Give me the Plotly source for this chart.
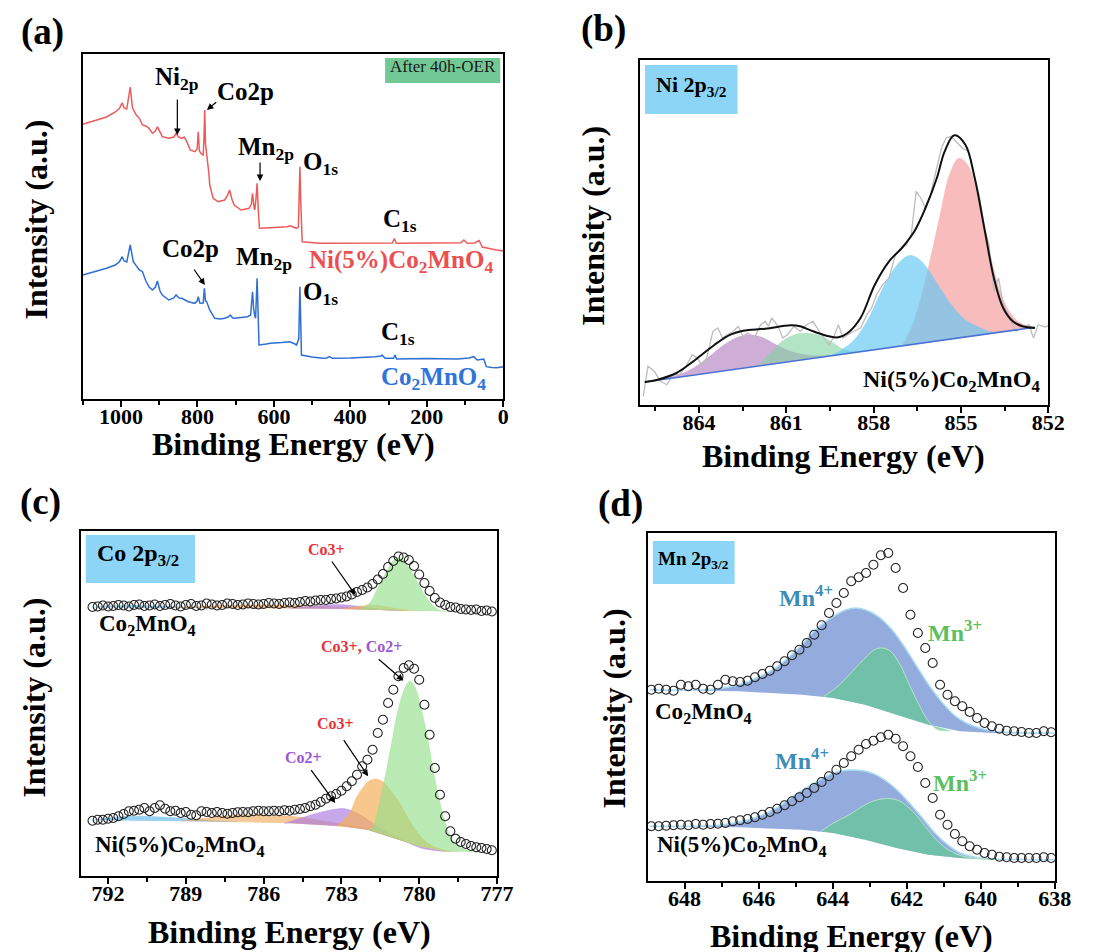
import plotly.graph_objects as go

W, H = 1100, 952
FONT = "Times New Roman, Liberation Serif, Tinos, serif"

# ---------------- Panel (a) survey spectra ----------------
a_red_x = [1100, 1070, 1038, 1015, 1004, 997, 992, 985, 976, 970, 960, 952, 944, 935, 927, 918, 910, 905, 898, 892,
           875, 862, 856, 850, 841, 835, 828, 819, 807, 801, 798, 795, 790, 785, 783, 781, 779, 775, 770, 768,
           759, 746, 729, 722, 716, 710, 704, 686, 665, 659, 656, 652, 650, 647, 644, 641, 638, 609, 566, 558,
           541, 536, 533, 532, 530, 528, 526, 480, 400, 352, 290, 285, 280, 275, 200, 111, 103, 94, 75, 63,
           55, 43, 30, 17, 0]
a_red_y = [274.7, 278, 282, 287, 290.7, 296.3, 291, 290, 312, 291, 284, 280.7, 274, 273, 270.7, 265.7, 268, 272.3, 266, 262.3,
           260.7, 262, 265.7, 262, 260.7, 262, 257.3, 249, 247.3, 250, 267.3, 248, 245, 244, 260, 289, 255, 244, 225, 214,
           200.7, 197.3, 199, 203, 209, 200, 194, 189, 190.7, 195, 205.7, 192, 189, 200, 215.7, 190, 170.7, 171.3, 172.3, 173.3,
           170.7, 172, 215, 232.3, 200, 165, 157.3, 155.7, 156, 155.7, 156, 160.5, 156, 155.7, 156, 156.3, 159, 155.7, 156, 158.5,
           152, 150.7, 150, 149, 148]
a_blue_x = [1100, 1070, 1038, 1015, 1004, 997, 992, 985, 976, 968, 960, 952, 944, 935, 927, 918, 910, 905, 898, 892,
            875, 862, 856, 848, 841, 824, 807, 801, 798, 794, 791, 785, 782, 779, 776, 768, 755, 740, 729, 720,
            714, 708, 704, 680, 669, 661, 658, 656, 653, 652, 650, 648, 646, 644, 642, 639, 620, 609, 580, 558,
            545, 541, 535, 533, 532, 530, 528, 500, 472, 462, 455, 447, 400, 335, 320, 317, 309, 287, 283, 279,
            200, 120, 90, 77, 68, 51, 44, 30, 17, 0]
a_blue_y = [124, 127, 130.7, 134, 137.3, 142.3, 138, 137, 154, 137.3, 133, 129, 127.3, 118, 112.3, 109, 112, 118, 108, 104,
            99, 101, 104, 101, 100.7, 97.3, 95.7, 98, 102.3, 96, 95.7, 96, 110.7, 98, 97.3, 89, 80.7, 80, 80.7, 82,
            84, 81, 80.7, 81.5, 82.3, 84, 95, 107.3, 90, 85.7, 83, 80.7, 100, 120.7, 95, 54, 55, 55.7, 56.5, 57.3,
            55, 54, 60, 95, 112.3, 80, 44, 42, 40.7, 41, 42.3, 40.7, 41, 42.3, 43, 44, 40.7, 40.7, 44, 40,
            40.5, 40, 41, 42.3, 39, 40, 32.3, 31.5, 31.3, 32.3]

# ---------------- Panel (b) Ni 2p3/2 ----------------
b_raw_x = [865.91, 865.75, 865.53, 865.32, 865.10, 864.88, 864.66, 864.44, 864.23, 864.06, 863.90, 863.73, 863.52, 863.35,
           863.19, 863.03, 862.81, 862.65, 862.48, 862.32, 862.10, 861.88, 861.72, 861.61, 861.50, 861.28, 861.12, 860.96,
           860.74, 860.52, 860.30, 860.08, 859.87, 859.70, 859.54, 859.38, 859.21, 859.05, 858.89, 858.67, 858.45, 858.23,
           858.07, 857.90, 857.69, 857.47, 857.25, 857.03, 856.87, 856.71, 856.54, 856.38, 856.22, 856.05, 855.89, 855.67,
           855.51, 855.34, 855.18, 854.96, 854.74, 854.53, 854.36, 854.20, 854.04, 853.87, 853.71, 853.55, 853.33, 853.11,
           852.89, 852.67, 852.51, 852.35, 852.10, 851.90]
b_raw_y = [8.7, 38.7, 33.7, 23.7, 20.3, 30.3, 30.3, 38.7, 50.3, 47, 40.3, 47, 73.7, 77,
           67, 70.3, 73.7, 78.7, 68.7, 72, 67, 80.3, 83.7, 78.7, 87, 78.7, 67, 70.3,
           78.7, 73.7, 80.3, 83.7, 73.7, 67, 60.3, 67, 80.3, 67, 70.3, 73.7, 77, 90.3,
           97, 110.3, 120.3, 127, 150.3, 157, 160.3, 170.3, 213.7, 207, 197, 210.3, 230.3, 257,
           267, 268.7, 263.7, 257, 253.7, 227, 207, 177, 160.3, 113.7, 127, 100.3, 87, 73.7,
           77, 80.3, 67, 80.3, 78, 81]
b_env_x = [865.86, 865.42, 864.77, 864.12, 863.46, 862.92, 862.48, 861.72, 860.85, 860.52, 860.08, 859.54, 859.21, 858.89,
           858.45, 857.96, 857.47, 857.03, 856.60, 856.22, 855.83, 855.56, 855.23, 854.85, 854.53, 854.20, 853.87, 853.55,
           853.22, 852.89, 852.46]
b_env_y = [23, 25.3, 32, 45.3, 60.3, 70.3, 74.3, 76.3, 79.7, 78.7, 73.7, 68.7, 67.7, 72,
           87, 120.3, 143.7, 157, 173.7, 197, 227, 253.7, 269.7, 260.3, 227, 177, 127, 97,
           83.7, 78.7, 77]
b_base_x = [865.86, 852.46]
b_base_y = [23, 77.7]
b_purple_x = [865.86, 864.99, 864.33, 863.68, 863.14, 862.59, 862.26, 861.83, 861.39, 860.85, 860.19, 859.32]
b_purple_y = [23, 27.7, 34.7, 47.7, 60.3, 68.7, 70.3, 67.7, 61, 53.7, 49.7, 49.7]
b_green_x = [861.94, 861.50, 861.07, 860.63, 860.30, 859.87, 859.43, 858.99, 858.45]
b_green_y = [40.3, 53.7, 65.3, 71, 72, 69.7, 63, 55.3, 53.2]
b_blue_x = [859.54, 859.10, 858.67, 858.23, 857.80, 857.36, 857.03, 856.76, 856.49, 856.16, 855.72, 855.29, 854.85, 854.31,
            853.87, 853.44]
b_blue_y = [48.8, 55.3, 65.3, 83.7, 110.3, 133.7, 145.3, 149.7, 147, 137, 117, 98.7, 85.3, 77, 72.5, 73.7]
b_red_x = [857.03, 856.71, 856.38, 856.05, 855.72, 855.40, 855.07, 854.74, 854.42, 854.09, 853.76, 853.44, 853.11, 852.79,
           852.46]
b_red_y = [59, 77, 107, 147, 190.3, 230.3, 247, 238.7, 207, 163.7, 123.7, 98.7, 85.3, 79.7, 77.7]

# ---------------- Panel (c) Co 2p3/2 ----------------
c_x = [792.6, 792.4, 792.2, 792.0, 791.8, 791.6, 791.4, 791.2, 791.0, 790.8, 790.6, 790.4, 790.2, 790.0, 789.8, 789.6,
       789.4, 789.2, 789.0, 788.8, 788.6, 788.4, 788.2, 788.0, 787.8, 787.6, 787.4, 787.2, 787.0, 786.8, 786.6, 786.4,
       786.2, 786.0, 785.8, 785.6, 785.4, 785.2, 785.0, 784.8, 784.6, 784.4, 784.2, 784.0, 783.8, 783.6, 783.4, 783.2,
       783.0, 782.8, 782.6, 782.4, 782.2, 782.0, 781.8, 781.6, 781.4, 781.2, 781.0, 780.8, 780.6, 780.4, 780.2, 780.0,
       779.8, 779.6, 779.4, 779.2, 779.0, 778.8, 778.6, 778.4, 778.2, 778.0, 777.8, 777.6, 777.4, 777.2]
c_top_y = [269.0, 269.5, 270.5, 269.5, 270.0, 271.0, 270.5, 269.5, 271.0, 271.5, 270.0, 270.5, 271.5, 270.0, 271.0, 272.0,
           270.5, 269.5, 271.0, 272.0, 270.0, 270.5, 272.5, 271.5, 270.5, 271.0, 272.5, 272.0, 271.0, 271.5, 272.5, 272.0,
           271.5, 272.0, 273.0, 272.5, 272.0, 273.0, 273.5, 273.0, 274.0, 275.0, 274.5, 275.5, 276.0, 276.0, 277.0, 277.5,
           278.5, 279.5, 281.5, 284.0, 286.0, 288.5, 292.0, 296.5, 302.0, 309.0, 315.0, 319.5, 318.5, 316.0, 310.0, 301.5,
           293.0, 285.0, 278.0, 273.5, 271.0, 269.0, 268.5, 267.0, 266.5, 266.0, 266.5, 265.0, 265.5, 264.5]
c_bot_y = [55.3, 56.3, 56.3, 57.3, 58, 59.7, 62, 64.7, 65.3, 66.3, 68, 64.7, 68, 70.7, 67.3, 64.7,
           65.3, 63, 64, 61.3, 60.7, 64.7, 64, 63, 64, 63, 62.3, 63, 63.7, 64, 63.7, 64.7,
           65.3, 64.7, 64.7, 65.3, 64.7, 65.7, 65.3, 66.3, 67, 68, 69.7, 71.3, 74, 77.3, 79.7, 82,
           85.3, 89.7, 94.7, 101.3, 109.7, 116.3, 126.3, 143, 156.3, 173, 186.3, 199.7, 208, 210.7, 207.3, 196.3,
           171.3, 141.3, 108, 81.3, 59.7, 44.7, 37.3, 34, 32, 30, 28.7, 28, 27, 25.7]
# fitted components, upper spectrum (Co2MnO4)
ct_base_x = [792.6, 788.0, 785.0, 783.0, 781.5, 780.0, 779.0, 777.8]
ct_base_y = [268.5, 268.0, 267.5, 267.0, 266.0, 265.0, 264.5, 264.0]
ct_blue_x = [792.6, 792.0, 791.0, 790.0, 789.0, 788.0]
ct_blue_y = [268.5, 270.0, 270.5, 270.0, 269.0, 268.0]
ct_orng_x = [789.5, 788.5, 787.5, 786.5, 785.5, 784.5, 783.5, 782.5, 781.5, 780.5]
ct_orng_y = [268.2, 269.5, 270.5, 271.0, 271.0, 270.5, 269.5, 268.3, 266.5, 265.2]
ct_purp_x = [785.0, 784.2, 783.6, 783.2, 782.8, 782.3, 781.8, 781.2, 780.6]
ct_purp_y = [267.5, 269.5, 271.0, 271.5, 271.0, 269.5, 267.8, 266.3, 265.3]
ct_org2_x = [783.0, 782.6, 782.2, 781.9, 781.6, 781.2, 780.8, 780.3, 779.8]
ct_org2_y = [267.0, 268.5, 270.0, 271.0, 270.5, 269.0, 267.2, 265.8, 265.0]
ct_grn_x = [782.3, 781.91, 781.66, 781.40, 781.15, 780.90, 780.71, 780.52, 780.26, 780.01, 779.76, 779.50, 779.25, 779.0, 778.6]
ct_grn_y = [266.5, 273, 284.7, 298, 309.7, 317.3, 317.3, 313, 303, 291.3, 279.7, 271.3, 266.3, 264.7, 264.3]
# fitted components, lower spectrum (Ni(5%)Co2MnO4)
cb_base_x = [792.6, 790.0, 787.0, 785.0, 784.0, 783.0, 782.0, 781.0, 780.0, 779.0, 778.0, 777.5]
cb_base_y = [55.7, 55.0, 54.0, 52.8, 51.3, 49.7, 46.3, 38.0, 29.7, 24.7, 24.0, 24.0]
cb_blue_x = [792.6, 792.0, 791.2, 790.4, 789.6, 788.7, 787.8, 787.0]
cb_blue_y = [55.8, 58.0, 59.7, 59.5, 58.5, 57.0, 55.2, 54.1]
cb_orng_x = [789.2, 788.7, 787.5, 786.2, 785.0, 784.4, 783.8, 783.0, 782.0, 781.0, 780.0, 779.0]
cb_orng_y = [54.9, 56.3, 59.7, 61.3, 59.7, 58.0, 55.3, 52.0, 47.3, 38.8, 30.2, 25.0]
cb_purp_x = [785.2, 784.55, 784.05, 783.55, 783.18, 782.87, 782.55, 782.18, 781.80, 781.18, 780.55, 779.93, 779.30, 778.8]
cb_purp_y = [52.6, 58, 62, 65.3, 67, 67.3, 64.7, 59.7, 53, 43, 34.7, 28, 25.3, 24.5]
cb_org2_x = [783.2, 782.68, 782.43, 782.18, 781.93, 781.68, 781.43, 781.18, 780.80, 780.43, 780.05, 779.68, 779.30, 778.93, 778.5]
cb_org2_y = [49.5, 63, 78, 88, 95, 97, 94.7, 88, 74.7, 58, 43, 33, 28, 25.3, 24.3]
cb_grn_x = [782.0, 781.80, 781.55, 781.30, 781.05, 780.80, 780.55, 780.37, 780.18, 779.93, 779.68, 779.43, 779.18, 778.93,
            778.68, 778.37, 778.05, 777.68]
cb_grn_y = [46.3, 48, 71.3, 101.3, 134.7, 168, 188, 194.7, 189.7, 168, 138, 101.3, 71.3, 48, 34.7, 28, 24.7, 23.7]

# ---------------- Panel (d) Mn 2p3/2 ----------------
d_x = [648.9, 648.7, 648.5, 648.3, 648.1, 647.9, 647.7, 647.5, 647.3, 647.1, 646.9, 646.7, 646.5, 646.3, 646.1, 645.9,
       645.7, 645.5, 645.3, 645.1, 644.9, 644.7, 644.5, 644.3, 644.1, 643.9, 643.7, 643.5, 643.3, 643.1, 642.9, 642.7,
       642.5, 642.3, 642.1, 641.9, 641.7, 641.5, 641.3, 641.1, 640.9, 640.7, 640.5, 640.3, 640.1, 639.9, 639.7, 639.5,
       639.3, 639.1, 638.9, 638.7, 638.5, 638.3, 638.1]
d_top_y = [191.3, 192.3, 191.3, 190.3, 196.3, 194.7, 196.3, 192.3, 191.3, 196.3, 201.3, 199.7, 199, 200.3, 203.7, 207,
           210.3, 214.7, 219.7, 225.7, 231.3, 238, 246.3, 255.7, 268, 278, 288, 299.7, 303.7, 308, 316.3, 325.7,
           328, 313, 293, 266.3, 248, 233, 218, 196.3, 186.3, 179.7, 174.7, 169, 163, 158, 154.7, 152.3,
           150.3, 149.7, 149, 148, 148, 149.7, 148.7]
d_bot_y = [54.7, 54.7, 55.3, 55.7, 56.3, 55.7, 57, 56.3, 57, 57.3, 58, 59.7, 60.7, 62, 63.7, 66.3,
           69, 72.3, 75.7, 79.7, 83.7, 88, 93, 99, 104.7, 111.3, 118, 124.7, 131.3, 137, 140.3, 143.7,
           146.3, 142.3, 134.7, 124.7, 114, 98, 83, 66.3, 56.3, 47, 39.7, 34.7, 31.3, 28, 26.3, 24.3,
           23.7, 23, 23, 23, 23, 23.7, 23]
dt_base_x = [648.94, 646.55, 644.83, 643.98, 643.12, 642.27, 641.41, 640.56, 639.70, 638.42, 638.0]
dt_base_y = [191.3, 189.7, 186.3, 183, 176.3, 166.3, 156.3, 149.7, 148, 147.3, 147.3]
dt_mn4_x = [648.94, 647.40, 646.55, 645.69, 645.26, 644.83, 644.41, 643.98, 643.64, 643.38, 643.12, 642.78, 642.44,
            642.10, 641.76, 641.41, 641.07, 640.73, 640.39, 640.04, 639.70, 639.27, 638.42, 638.0]
dt_mn4_y = [191.3, 191.3, 196.3, 209.7, 221.3, 236.3, 253, 264.7, 271.3, 273, 271.3, 264.7, 253,
            236.3, 216.3, 196.3, 179.7, 166.3, 158, 153, 150.3, 148.7, 148, 148]
dt_mn3_x = [644.24, 643.81, 643.47, 643.12, 642.87, 642.65, 642.44, 642.18, 641.93, 641.67, 641.41, 641.16, 640.81]
dt_mn3_y = [184.5, 196.3, 209.7, 223, 231.3, 233, 229.7, 216.3, 196.3, 176.3, 159.7, 151.3, 150.5]
db_base_x = [648.94, 646.55, 644.83, 643.98, 643.12, 642.27, 641.41, 640.56, 639.70, 638.42, 638.0]
db_base_y = [54.7, 53.7, 51.3, 48, 41.3, 33, 26.3, 23, 21.3, 21.3, 21.3]
db_mn4_x = [648.94, 646.97, 646.12, 645.52, 645.01, 644.49, 643.98, 643.64, 643.30, 642.95, 642.61, 642.27, 641.93,
            641.58, 641.24, 640.90, 640.56, 640.13, 639.70, 638.42, 638.0]
db_mn4_y = [54.7, 56.3, 63, 73, 86.3, 98, 108, 110.7, 110.7, 108, 101.3, 91.3, 78,
            63, 48, 36.3, 28, 23.7, 22, 21.3, 21.3]
db_mn3_x = [644.32, 643.98, 643.55, 643.12, 642.78, 642.44, 642.18, 641.84, 641.50, 641.16, 640.81, 640.47, 640.04, 639.5]
db_mn3_y = [49.7, 58, 66.3, 76.3, 81.3, 82.3, 79.7, 69.7, 54.7, 39.7, 29.7, 24.7, 22.3, 21.5]

# tick labels
a_ticks = [1000, 800, 600, 400, 200, 0]
b_ticks = [864, 861, 858, 855, 852]
c_ticks = [792, 789, 786, 783, 780, 777]
d_ticks = [648, 646, 644, 642, 640, 638]

# ------------------------------------------------------------
fig = go.Figure()


def line(x, y, ax, color, width=1.5, shape="linear"):
    fig.add_trace(go.Scatter(x=x, y=y, xaxis=ax[0], yaxis=ax[1], mode="lines",
                             line=dict(color=color, width=width, shape=shape),
                             showlegend=False, hoverinfo="skip"))


def band(bx, by, cx, cy, ax, fill, edge, ew=0.8):
    # baseline points that lie inside the component's span (no interpolation)
    lo, hi = min(cx), max(cx)
    sel = [(x, y) for x, y in zip(bx, by) if lo < x < hi]
    fig.add_trace(go.Scatter(x=[p[0] for p in sel] or [cx[0]], y=[p[1] for p in sel] or [cy[0]],
                             xaxis=ax[0], yaxis=ax[1], mode="lines",
                             line=dict(width=0), showlegend=False, hoverinfo="skip"))
    fig.add_trace(go.Scatter(x=cx, y=cy, xaxis=ax[0], yaxis=ax[1], mode="lines", fill="tonexty",
                             fillcolor=fill, line=dict(color=edge, width=ew, shape="spline"),
                             showlegend=False, hoverinfo="skip"))


def circles(x, y, ax):
    fig.add_trace(go.Scatter(x=x, y=y, xaxis=ax[0], yaxis=ax[1], mode="markers",
                             marker=dict(symbol="circle-open", size=9, color="#222222",
                                         line=dict(width=1.1)),
                             showlegend=False, hoverinfo="skip"))


A, B, C, D = ("x", "y"), ("x2", "y2"), ("x3", "y3"), ("x4", "y4")

# (a)
line(a_red_x, a_red_y, A, "#ec5a5a", 1.5)
line(a_blue_x, a_blue_y, A, "#2f6fd3", 1.5)

# (b)
band(b_base_x, b_base_y, b_purple_x, b_purple_y, B, "rgba(165,105,180,0.55)", "rgba(165,105,180,0.3)", 0.5)
band(b_base_x, b_base_y, b_green_x, b_green_y, B, "rgba(130,210,160,0.6)", "rgba(130,210,160,0.3)", 0.5)
band(b_base_x, b_base_y, b_red_x, b_red_y, B, "rgba(245,160,160,0.7)", "rgba(245,160,160,0.3)", 0.5)
band(b_base_x, b_base_y, b_blue_x, b_blue_y, B, "rgba(100,200,245,0.68)", "rgba(100,200,245,0.3)", 0.5)
line(b_raw_x, b_raw_y, B, "#bdbdbd", 1.3)
line(b_base_x, b_base_y, B, "#4a72d4", 1.6)
line(b_env_x, b_env_y, B, "#111111", 2.0, "spline")

# (c)
band(ct_base_x, ct_base_y, ct_blue_x, ct_blue_y, C, "rgba(110,190,235,0.7)", "rgba(110,190,235,0.5)")
band(ct_base_x, ct_base_y, ct_orng_x, ct_orng_y, C, "rgba(245,170,90,0.65)", "rgba(245,170,90,0.5)")
band(ct_base_x, ct_base_y, ct_purp_x, ct_purp_y, C, "rgba(170,120,225,0.65)", "rgba(170,120,225,0.5)")
band(ct_base_x, ct_base_y, ct_org2_x, ct_org2_y, C, "rgba(245,175,90,0.65)", "rgba(245,175,90,0.5)")
band(ct_base_x, ct_base_y, ct_grn_x, ct_grn_y, C, "rgba(150,225,140,0.65)", "rgba(150,225,140,0.5)")
band(cb_base_x, cb_base_y, cb_blue_x, cb_blue_y, C, "rgba(110,190,235,0.7)", "rgba(110,190,235,0.5)")
band(cb_base_x, cb_base_y, cb_orng_x, cb_orng_y, C, "rgba(240,165,85,0.6)", "rgba(240,165,85,0.5)")
band(cb_base_x, cb_base_y, cb_purp_x, cb_purp_y, C, "rgba(170,120,225,0.65)", "rgba(170,120,225,0.5)")
band(cb_base_x, cb_base_y, cb_org2_x, cb_org2_y, C, "rgba(245,175,90,0.7)", "rgba(245,175,90,0.5)")
band(cb_base_x, cb_base_y, cb_grn_x, cb_grn_y, C, "rgba(150,225,140,0.65)", "rgba(150,225,140,0.5)")
circles(c_x, c_top_y, C)
circles(c_x, c_bot_y, C)

# (d)
band(dt_base_x, dt_base_y, dt_mn4_x, dt_mn4_y, D, "rgba(125,152,215,0.82)", "#a9dcf2", 1.5)
band(dt_base_x, dt_base_y, dt_mn3_x, dt_mn3_y, D, "rgba(100,200,150,0.72)", "#b6e6c4", 1.0)
band(db_base_x, db_base_y, db_mn4_x, db_mn4_y, D, "rgba(125,152,215,0.82)", "#a9dcf2", 1.5)
band(db_base_x, db_base_y, db_mn3_x, db_mn3_y, D, "rgba(100,200,150,0.72)", "#b6e6c4", 1.0)
circles(d_x, d_top_y, D)
circles(d_x, d_bot_y, D)


# ---------------- axes ----------------
def xax(dom, rng, ticks, minor_dt, anchor):
    return dict(domain=dom, range=rng, anchor=anchor, tickmode="array", tickvals=ticks,
                ticktext=[str(t) for t in ticks], ticks="outside", ticklen=6, tickwidth=1.8,
                tickcolor="black", showline=True, mirror=True, linecolor="black", linewidth=1.8,
                showgrid=False, zeroline=False, ticklabelstandoff=-9,
                tickfont=dict(family=FONT, size=22, color="black", weight="bold"),
                minor=dict(ticks="outside", ticklen=4, tickwidth=1.5, tickcolor="black",
                           dtick=minor_dt, tick0=ticks[-1], showgrid=False))


def yax(dom, rng, anchor):
    return dict(domain=dom, range=rng, anchor=anchor, showticklabels=False, ticks="",
                showline=True, mirror=True, linecolor="black", linewidth=1.8,
                showgrid=False, zeroline=False)


def px_x(p):
    return p / W


def px_y(p):
    return 1 - p / H


layout = dict(
    width=W, height=H, margin=dict(l=0, r=0, t=0, b=0),
    paper_bgcolor="white", plot_bgcolor="white", showlegend=False,
    font=dict(family=FONT, color="black"),
    xaxis=xax([px_x(76), px_x(503)], [1100, 0], a_ticks, 100, "y"),
    yaxis=yax([px_y(391), px_y(46)], [0, 345], "x"),
    xaxis2=xax([px_x(641.7), px_x(1056.7)], [866.03, 852], b_ticks, 1.5, "y2"),
    yaxis2=yax([px_y(397), px_y(52)], [0, 345], "x2"),
    xaxis3=xax([px_x(74), px_x(496.7)], [793.05, 777], c_ticks, 1.5, "y3"),
    yaxis3=yax([px_y(868), px_y(523)], [0, 345], "x3"),
    xaxis4=xax([px_x(650), px_x(1063.3)], [648.99, 638], d_ticks, 1, "y4"),
    yaxis4=yax([px_y(873), px_y(525)], [0, 348], "x4"),
)
fig.update_layout(**layout)

ann = []


def text(px, py, s, size, color="black", bold=True, xanchor="center", angle=0):
    t = f"<b>{s}</b>" if bold else s
    # the rendered text box sits a little below the cap-centre, so lift it by ~0.25 em
    if angle == 0:
        py -= 0.25 * size
    else:
        px -= 0.25 * size
    ann.append(dict(x=px_x(px), y=px_y(py), xref="paper", yref="paper", text=t, showarrow=False,
                    xanchor=xanchor, yanchor="middle", textangle=angle,
                    font=dict(family=FONT, size=size, color=color)))


def arrow(xref, yref, tx, ty, hx, hy, color="black"):
    ann.append(dict(x=hx, y=hy, ax=tx, ay=ty, xref=xref, yref=yref, axref=xref, ayref=yref,
                    text="", showarrow=True, arrowhead=2, arrowsize=1.1, arrowwidth=1.2,
                    arrowcolor=color))


shapes = []


def box(x0, y0, x1, y1, color):
    shapes.append(dict(type="rect", xref="paper", yref="paper", x0=px_x(x0), x1=px_x(x1),
                       y0=px_y(y1), y1=px_y(y0), fillcolor=color, line=dict(width=0), layer="above"))


# panel letters
text(35, 33, "(a)", 37)
text(605, 30, "(b)", 37)
text(33, 503, "(c)", 37)
text(622, 505, "(d)", 37)

# axis titles
for cx, cy in [(290, 444), (849, 456), (286, 932), (857, 936)]:
    text(cx, cy, "Binding Energy (eV)", 32)
for cx, cy in [(36, 212), (602, 218), (34, 690), (624, 700)]:
    text(cx, cy, "Intensity (a.u.)", 32, angle=-90)

# (a) annotations
box(383, 50, 500, 75, "#72c995")
text(441.5, 63, "After 40h-OER", 17, "#1a1a1a", bold=False)
text(172, 77, "Ni<sub>2p</sub>", 25)
text(241, 90, "Co2p", 25)
text(262, 147, "Mn<sub>2p</sub>", 25)
text(317, 162, "O<sub>1s</sub>", 25)
text(398, 219, "C<sub>1s</sub>", 25)
text(495, 260, "Ni(5%)Co<sub>2</sub>MnO<sub>4</sub>", 25, "#ec4f4f", xanchor="right")
text(185, 247, "Co2p", 25)
text(260, 257, "Mn<sub>2p</sub>", 25)
text(317, 292, "O<sub>1s</sub>", 25)
text(396, 332, "C<sub>1s</sub>", 25)
text(488, 377, "Co<sub>2</sub>MnO<sub>4</sub>", 25, "#2f74d8", xanchor="right")
arrow("x", "y", 852.7, 301, 852.7, 264)
arrow("x", "y", 747.1, 298, 775.4, 289)
arrow("x", "y", 636.3, 238, 636.3, 218)
arrow("x", "y", 811.5, 131, 780.6, 114)

# (b) annotations
box(647, 57, 741, 106, "#8dd5f7")
text(694, 83, "Ni 2p<sub>3/2</sub>", 22)
text(1050, 379, "Ni(5%)Co<sub>2</sub>MnO<sub>4</sub>", 24, xanchor="right")

# (c) annotations
box(79, 527, 190, 575, "#8dd5f7")
text(132, 553, "Co 2p<sub>3/2</sub>", 24)
text(323, 545, "Co3+", 16, "#e8313a")
arrow("x3", "y3", 783.41, 316, 782.46, 281)
text(359, 642, "<span style='color:#e8313a'>Co3+,</span> <span style='color:#9b55d6'>Co2+</span>", 16)
arrow("x3", "y3", 781.62, 218, 780.61, 195.3)
text(333, 719, "Co3+", 16, "#e8313a")
arrow("x3", "y3", 782.95, 137.3, 781.97, 99.7)
text(300, 753, "Co2+", 16, "#9b55d6")
arrow("x3", "y3", 784.21, 107.3, 783.24, 73)
text(90, 623, "Co<sub>2</sub>MnO<sub>4</sub>", 23, xanchor="left")
text(86, 844, "Ni(5%)Co<sub>2</sub>MnO<sub>4</sub>", 23, xanchor="left")

# (d) annotations
box(655, 533, 738, 576, "#8dd5f7")
text(696, 557, "Mn 2p<sub>3/2</sub>", 19)
text(811, 594, "Mn<sup>4+</sup>", 24, "#3d8db8")
text(962, 629, "Mn<sup>3+</sup>", 24, "#5cbf60")
text(806, 757, "Mn<sup>4+</sup>", 24, "#3d8db8")
text(967, 779, "Mn<sup>3+</sup>", 24, "#5cbf60")
text(655, 711, "Co<sub>2</sub>MnO<sub>4</sub>", 23, xanchor="left")
text(657, 844, "Ni(5%)Co<sub>2</sub>MnO<sub>4</sub>", 23, xanchor="left")

# faint separator line at the bottom-left (present in the source image)
shapes.append(dict(type="line", xref="paper", yref="paper", x0=0, x1=px_x(540), y0=px_y(948), y1=px_y(948),
                   line=dict(color="#d0d0d0", width=1)))

fig.update_layout(annotations=ann, shapes=shapes)
fig.write_html("out.html")
